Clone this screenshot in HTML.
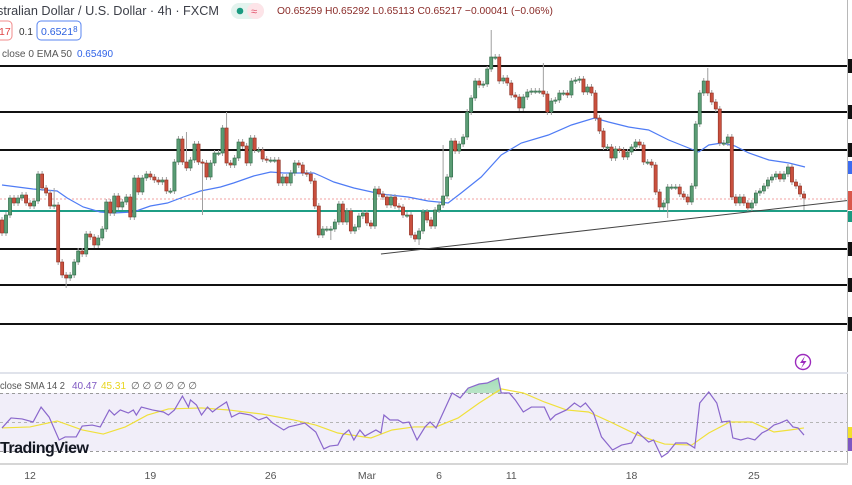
<!DOCTYPE html>
<html><head><meta charset="utf-8"><style>
html,body{margin:0;padding:0;background:#fff;overflow:hidden}
svg{display:block;font-family:"Liberation Sans",sans-serif}
</style></head><body>
<svg id="chart" width="852" height="485" viewBox="0 0 852 485" xmlns="http://www.w3.org/2000/svg">
<defs>
<clipPath id="above70"><rect x="0" y="360" width="848" height="33"/></clipPath>
<linearGradient id="gfill" x1="0" y1="0" x2="0" y2="1"><stop offset="0" stop-color="#7fcf9a" stop-opacity="0.7"/><stop offset="1" stop-color="#d8f0df" stop-opacity="0.4"/></linearGradient>
</defs>
<g id="levels"></g>
<g id="ema"></g>
<g id="candles"></g>
<g id="trend"></g>
<line x1="847.5" y1="0" x2="847.5" y2="465" stroke="#b8b8b8" stroke-width="1"/>
<g id="tags"></g>

<text x="-3" y="15" font-size="13" textLength="222" lengthAdjust="spacingAndGlyphs" fill="#3c3f48">stralian Dollar / U.S. Dollar · 4h · FXCM</text>
<rect x="231" y="3" width="33" height="16" rx="8" fill="#e3f3ee"/>
<rect x="247" y="3" width="17" height="16" rx="8" fill="#fde4e8"/>
<circle cx="240" cy="11" r="3.3" fill="#1a9a80"/>
<text x="251" y="15" font-size="11" fill="#e0506a">≈</text>
<text x="277" y="14" font-size="10.5" textLength="276" lengthAdjust="spacingAndGlyphs" fill="#8a2b28">O0.65259 H0.65292 L0.65113 C0.65217 −0.00041 (−0.06%)</text>

<rect x="-6" y="21" width="18" height="19" rx="4" fill="#fff" stroke="#f28b8b"/>
<text x="-1" y="35" font-size="10.5" fill="#e04545">17</text>
<text x="19" y="35" font-size="10" fill="#333">0.1</text>
<rect x="37" y="21" width="44" height="19" rx="4" fill="#fff" stroke="#5a86f0"/>
<text x="41" y="35" font-size="10.5" fill="#2a5fe0">0.6521<tspan font-size="8" dy="-3">8</tspan></text>
<text x="2" y="57" font-size="10" textLength="70" lengthAdjust="spacingAndGlyphs" fill="#555">close 0 EMA 50</text>
<text x="77" y="57" font-size="10" textLength="36" lengthAdjust="spacingAndGlyphs" fill="#2f63e8">0.65490</text>

<g><circle cx="803" cy="362" r="7.5" fill="#fff" stroke="#9c2bbd" stroke-width="1.4"/><path d="M805 356 L800 363 L803.5 363 L801 368.5 L806.5 361 L803 361 Z" fill="#9c2bbd"/></g>
<line x1="0" y1="373" x2="848" y2="373" stroke="#e0e3eb" stroke-width="2"/>

<rect x="0" y="393" width="847" height="58" fill="#f1eef9"/>
<line x1="0" y1="393.5" x2="847" y2="393.5" stroke="#9a9a9a" stroke-dasharray="3,3"/>
<line x1="0" y1="422.5" x2="847" y2="422.5" stroke="#b5b5b5" stroke-dasharray="3,3"/>
<line x1="0" y1="451.5" x2="847" y2="451.5" stroke="#9a9a9a" stroke-dasharray="3,3"/>
<g id="rsi"></g>
<text x="0" y="389" font-size="10" textLength="65" lengthAdjust="spacingAndGlyphs" fill="#555">close SMA 14 2</text>
<text x="72" y="389" font-size="10" textLength="25" lengthAdjust="spacingAndGlyphs" fill="#7e57c2">40.47</text>
<text x="101" y="389" font-size="10" textLength="25" lengthAdjust="spacingAndGlyphs" fill="#e8d51c">45.31</text>
<text x="131" y="389" font-size="10" textLength="66" lengthAdjust="spacing" fill="#555">∅ ∅ ∅ ∅ ∅ ∅</text>
<rect x="848" y="427" width="4" height="11" fill="#f3e02a"/>
<rect x="848" y="438" width="4" height="13" fill="#7e57c2"/>
<text x="0" y="453" font-size="16" font-weight="bold" fill="#131722" letter-spacing="-0.5">TradingView</text>
<line x1="0" y1="464" x2="848" y2="464" stroke="#d6d6d6" stroke-width="2"/>
<g id="xaxis"></g>
</svg>
<script>
const closes = [0.65767,0.65785,0.65802,0.65797,0.65802,0.65805,0.65797,0.65794,0.65799,0.65826,0.65812,0.65807,0.65794,0.65795,0.65738,0.65725,0.65722,0.65725,0.65738,0.65749,0.65746,0.65766,0.65763,0.65755,0.65762,0.65771,0.65798,0.65787,0.65804,0.65793,0.65798,0.65803,0.65783,0.65822,0.65808,0.65822,0.65826,0.65823,0.65820,0.65818,0.65820,0.65809,0.65809,0.65838,0.65861,0.65838,0.65832,0.65840,0.65856,0.65838,0.65837,0.65823,0.65837,
0.65847,0.65847,0.65872,0.65837,0.65835,0.65842,0.65858,0.65854,0.65837,0.65862,0.65850,0.65850,0.65841,0.65840,0.65840,0.65840,0.65817,0.65823,0.65817,0.65827,0.65837,0.65835,0.65827,0.65826,0.65819,0.65794,0.65765,0.65771,0.65771,0.65771,0.65778,0.65796,0.65778,0.65789,0.65769,0.65773,0.65784,0.65787,0.65777,0.65774,0.65811,0.65806,0.65803,0.65795,0.65803,0.65794,0.65793,0.65785,0.65785,0.65765,0.65761,0.65769,0.65788,0.65780,0.65774,0.65790,
0.65795,0.65804,0.65823,0.65859,0.65849,0.65856,0.65863,0.65888,0.65902,0.65919,0.65915,0.65916,0.65931,0.65943,0.65943,0.65919,0.65922,0.65917,0.65905,0.65903,0.65892,0.65903,0.65908,0.65909,0.65909,0.65909,0.65906,0.65888,0.65899,0.65900,0.65907,0.65907,0.65905,0.65919,0.65920,0.65921,0.65908,0.65913,0.65907,0.65882,0.65869,0.65853,0.65853,0.65842,0.65851,0.65850,0.65843,0.65848,0.65853,0.65858,0.65855,0.65838,0.65838,0.65835,0.65808,0.65793,0.65797,0.65813,0.65813,0.65813,0.65806,0.65803,0.65798,0.65814,0.65876,0.65907,0.65919,0.65907,0.65898,0.65891,0.65857,0.65857,0.65863,0.65803,0.65797,0.65803,0.65797,0.65792,0.65797,0.65807,0.65809,0.65814,0.65820,0.65823,0.65826,0.65821,0.65826,0.65833,0.65818,0.65814,0.65806,0.65802];
const firstOpen = 0.65780;
const highIdx = [46, 56, 122, 135, 176, 110, 13];
const highVal = [0.65868, 0.65888, 0.65970, 0.65937, 0.65932, 0.65855, 0.65812];
const lowIdx = [16, 104, 166, 200, 50, 82];
const lowVal = [0.65712, 0.65755, 0.65782, 0.65790, 0.65785, 0.65760];
const emaIdx = [0,7.75,13.75,16.25,20.25,24.5,27.75,32.75,37,41.25,45.25,49.5,54.5,57.75,62.75,67,70.25,77.75,79.5,82.75,87.75,94.5,101.25,106.25,111.25,114.5,119.5,124.5,129.5,136.25,142,147.75,151.25,156.25,161.25,166.25,171.25,173.75,176.25,179.5,182.75,186.25,191.25,196.25,200.25];
const emaVal = [0.65815,0.65811,0.65809,0.65802,0.65793,0.65788,0.65787,0.65788,0.65794,0.65797,0.65803,0.65809,0.65813,0.65817,0.65824,0.65828,0.65827,0.65827,0.65824,0.65818,0.65812,0.65806,0.65803,0.65799,0.65797,0.65807,0.65823,0.65845,0.65857,0.65865,0.65875,0.65882,0.65878,0.65873,0.65870,0.65860,0.65852,0.65848,0.65855,0.65857,0.65854,0.65847,0.65840,0.65837,0.65833];
const levelPrices = [0.65934,0.65888,0.65850,0.65751,0.65715,0.65676];
const supportPrice = 0.65789;
const lastPrice = 0.65801;
const trendIdx = [94.5, 212];
const trendVal = [0.65746, 0.65800];
const rsiIdx = [0,2.25,5,7.75,9.75,11.75,14.25,15.75,18.5,20,22.5,24.5,26.75,28,29.5,31.5,32.75,33.5,34.75,37.5,40.25,41.5,43,45,46.5,47,48.5,49.75,51.25,52.5,53.75,56,57.25,59.25,62,64,66,67.5,70.25,71.5,73.5,75.5,78.25,80.25,81.75,83.75,85,86.5,87.75,89.25,90.5,93.25,94.5,95.25,96.75,98.75,100,101.5,103.5,105.5,106.75,108.25,109.5,112.25,114.25,116.25,119,121,123.75,124.5,126.5,128,130,132,135.25,136.75,138,140.75,142.75,144.25,145.5,147.5,149.5,152.25,154.5,157,158.5,161.25,162.5,164.5,166,168,170.75,172.75,174,176.25,178.25,179.5,181.5,182.25,184.25,186,187.75,189.5,191,192.5,194,195.75,197.25,198.5,200];
const rsiVal = [45.9,52.8,52.1,50,60.3,53.4,37.6,39.7,39.7,47.2,47.9,46.6,58.3,54.8,58.3,56.2,58.3,54.8,60.3,58.3,56.9,54.8,58.3,67.9,60.3,65.2,61.7,54.8,60.3,56.9,59.7,63.8,53.4,56.2,54.8,51.4,53.4,49.3,44.5,46.6,47.9,49.3,43.1,31.4,33.4,34.1,41,44.5,37.6,44.5,40.3,44.5,42.4,54.8,51.4,51.4,49.3,50,37.6,46.6,50,45.9,53.4,70,66.6,73.4,76.2,76.9,80.3,70,70,65.2,56.9,60.3,60.3,51.4,54.8,58.3,63.1,60.3,63.1,56.2,39.7,30.7,34.1,35.5,43.1,36.2,37.6,25.9,28.6,35.5,35.5,32.1,63.1,70.7,63.1,50,50.7,39,37.6,39,37.6,42.4,44.5,47.9,49.3,51.4,46.6,45.9,41];
const smaIdx = [0,7,13.75,20,25.25,30.75,36.25,41.5,49.75,56.5,64.75,72.75,78.25,83.75,92,97.25,102.75,108.25,113.75,119,124.5,130,135.25,140.75,146.25,151.75,158.5,165.25,172,176.25,181.5,187,192.5,196.5,200];
const smaVal = [45.9,46.6,50.7,44.5,41.7,46.6,54.8,59,59.7,58.3,55.5,51.4,47.9,42.4,39,44.5,46.6,46.6,52.8,63.1,72.8,70,63.8,58.3,56.9,50,41,34.8,34.1,42.4,50,50,43.1,44.5,45.9];
const xLabels = ["12","19","26","Mar","6","11","18","25"];
const xLabelIdx = [7,37,67,91,109,127,157,187.5];

const NS = "http://www.w3.org/2000/svg";
const X = i => 2 + i * 4.01;
const Y = p => (0.66 - p) * 100000;
const YR = v => 422 - (v - 50) * 1.45;
function mk(tag, attrs, parent){const e=document.createElementNS(NS,tag);for(const k in attrs)e.setAttribute(k,attrs[k]);parent.appendChild(e);return e;}

const lv = document.getElementById('levels');
levelPrices.forEach(p=>{
  const l = mk('line',{x1:0,x2:848,y1:Y(p),y2:Y(p),stroke:'#111','stroke-width':2},lv);
  
  
});
const sl = mk('line',{x1:0,x2:848,y1:Y(supportPrice),y2:Y(supportPrice),stroke:'#1f9e85','stroke-width':2},lv);


const pl = mk('line',{x1:0,x2:848,y1:Y(lastPrice),y2:Y(lastPrice),stroke:'#f2a0a0','stroke-width':1,'stroke-dasharray':'2,2'},lv);



const eg = document.getElementById('ema');
const ep = mk('polyline',{points:emaIdx.map((d,i)=>X(d)+','+Y(emaVal[i])).join(' '),fill:'none',stroke:'#4f7cf5','stroke-width':1.2},eg);



const cg = document.getElementById('candles');
closes.forEach((c,i)=>{
  const o = i===0 ? firstOpen : closes[i-1];
  let hi = Math.max(o,c)+0.00003, lo = Math.min(o,c)-0.00003;
  const hk = highIdx.indexOf(i); if(hk>=0) hi = Math.max(hi, highVal[hk]);
  const lk = lowIdx.indexOf(i); if(lk>=0) lo = Math.min(lo, lowVal[lk]);
  const up = c >= o;
  const x = X(i);
  const g = mk('g',{},cg);
  
  
  mk('line',{x1:x,x2:x,y1:Y(hi),y2:Y(lo),stroke:'#a0a0a0','stroke-width':1},g);
  const top = Y(Math.max(o,c)), h = Math.max(1.2, Y(Math.min(o,c))-top);
  mk('rect',{x:x-1.6,y:top,width:3.2,height:h,fill:up?'#5a9c74':'#c9503e',stroke:up?'#2f6a47':'#8f2f22','stroke-width':0.6},g);
});

const tg = document.getElementById('trend');
const tl = mk('line',{x1:X(trendIdx[0]),y1:Y(trendVal[0]),x2:X(trendIdx[1]),y2:Y(trendVal[1]),stroke:'#444','stroke-width':1},tg);



const tags = document.getElementById('tags');
levelPrices.forEach(p=>{
  const r = mk('rect',{x:848,y:Y(p)-7,width:4,height:14,fill:'#111'},tags);
  
  
});
const t1 = mk('rect',{x:848,y:Y(emaVal[emaVal.length-1])-6,width:4,height:13,fill:'#3c6cf0'},tags);


const t2 = mk('rect',{x:848,y:Y(lastPrice)-8,width:4,height:19,fill:'#d9574a'},tags);


const t3 = mk('rect',{x:848,y:Y(supportPrice),width:4,height:11,fill:'#1a9a80'},tags);



const rg = document.getElementById('rsi');
const rpts = rsiIdx.map((d,i)=>X(d)+','+YR(rsiVal[i]));
const fillPath = 'M'+X(rsiIdx[0])+',393 L'+rpts.join(' L')+' L'+X(rsiIdx[rsiIdx.length-1])+',393 Z';
const fa = mk('path',{d:fillPath,fill:'url(#gfill)','clip-path':'url(#above70)'},rg);


const sm = mk('polyline',{points:smaIdx.map((d,i)=>X(d)+','+YR(smaVal[i])).join(' '),fill:'none',stroke:'#f0e03a','stroke-width':1.2},rg);


const rl = mk('polyline',{points:rpts.join(' '),fill:'none',stroke:'#8a67cc','stroke-width':1.2},rg);



const xa = document.getElementById('xaxis');
xLabels.forEach((t,i)=>{
  const e = mk('text',{x:X(xLabelIdx[i]),y:479,'font-size':10.5,fill:'#555','text-anchor':'middle'},xa);
  e.textContent = t;
  
  
});
</script>
</body></html>
